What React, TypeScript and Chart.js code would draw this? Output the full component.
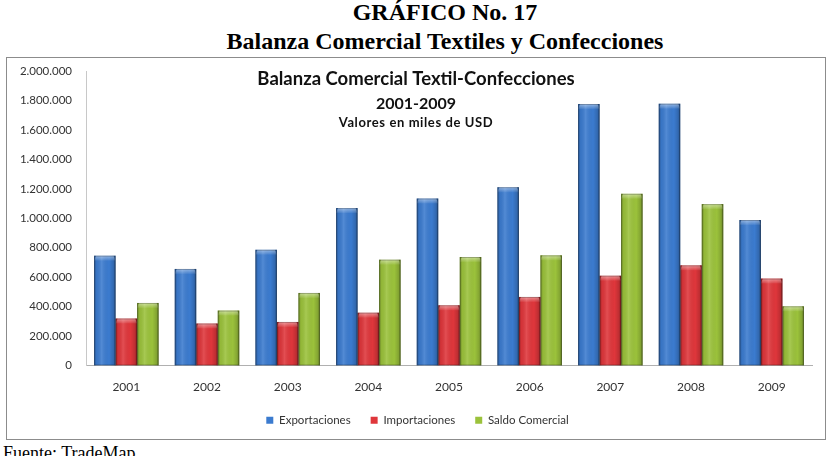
import React, { useEffect, useRef } from "react";
import { Chart, registerables } from "chart.js";

Chart.register(...registerables);

const years = ["2001", "2002", "2003", "2004", "2005", "2006", "2007", "2008", "2009"];
const exportaciones = [746000, 656000, 786000, 1069000, 1134000, 1211000, 1776000, 1778000, 988000];
const importaciones = [319000, 285000, 296000, 359000, 409000, 466000, 610000, 680000, 590000];
const saldoComercial = [425000, 373000, 493000, 719000, 737000, 748000, 1166000, 1096000, 402000];
const seriesNames = ["Exportaciones", "Importaciones", "Saldo Comercial"];
const seriesColors = ["#3b7bcf", "#df363b", "#9bc23b"];
const yMax = 2000000;
const yStep = 200000;

const pageTitle = "GRÁFICO No. 17";
const pageSubtitle = "Balanza Comercial Textiles y Confecciones";
const chartTitle = "Balanza Comercial Textil-Confecciones";
const chartPeriod = "2001-2009";
const chartUnits = "Valores en miles de USD";
const sourceNote = "Fuente: TradeMap";

const FONT = "Lato, 'Open Sans', sans-serif";
const SERIF = "'Liberation Serif', 'Times New Roman', serif";

function fmt(v: number): string {
  return String(v).replace(/\B(?=(\d{3})+(?!\d))/g, ".");
}

const barShading = {
  id: "barShading",
  afterDatasetsDraw(chart: any) {
    const ctx = chart.ctx;
    chart.data.datasets.forEach((_: any, di: number) => {
      const meta = chart.getDatasetMeta(di);
      meta.data.forEach((bar: any) => {
        const { x, y, base, width } = bar.getProps(["x", "y", "base", "width"], true);
        const l = x - width / 2;
        const h = base - y;
        if (h <= 0) return;
        ctx.save();
        const g = ctx.createLinearGradient(l, 0, l + width, 0);
        g.addColorStop(0, "rgba(0,0,0,0.30)");
        g.addColorStop(0.12, "rgba(0,0,0,0.05)");
        g.addColorStop(0.35, "rgba(255,255,255,0.12)");
        g.addColorStop(0.7, "rgba(0,0,0,0.0)");
        g.addColorStop(0.9, "rgba(0,0,0,0.15)");
        g.addColorStop(1, "rgba(0,0,0,0.40)");
        ctx.fillStyle = g;
        ctx.fillRect(l, y, width, h);
        const cap = Math.min(5, h);
        const g2 = ctx.createLinearGradient(0, y, 0, y + cap);
        g2.addColorStop(0, "rgba(255,255,255,0.45)");
        g2.addColorStop(1, "rgba(255,255,255,0.05)");
        ctx.fillStyle = g2;
        ctx.beginPath();
        ctx.moveTo(l, y + cap);
        ctx.lineTo(l + 2, y);
        ctx.lineTo(l + width - 2, y);
        ctx.lineTo(l + width, y + cap);
        ctx.closePath();
        ctx.fill();
        ctx.strokeStyle = "rgba(0,0,0,0.25)";
        ctx.lineWidth = 1;
        ctx.strokeRect(l + 0.5, y + 0.5, width - 1, h - 1);
        ctx.restore();
      });
    });
  },
};

const innerTitle = {
  id: "innerTitle",
  afterDraw(chart: any) {
    const ctx = chart.ctx;
    const cx = chart.chartArea.left + 330;
    const top = chart.chartArea.top;
    ctx.save();
    ctx.fillStyle = "#111";
    ctx.textAlign = "center";
    ctx.textBaseline = "middle";
    ctx.font = `bold 18.5px ${FONT}`;
    ctx.fillText(chartTitle, cx, top + 8);
    ctx.font = `bold 16px ${FONT}`;
    ctx.fillText(chartPeriod, cx, top + 33);
    ctx.font = `bold 13px ${FONT}`;
    try {
      (ctx as any).letterSpacing = "0.6px";
    } catch (e) {}
    ctx.fillText(chartUnits, cx, top + 52);
    ctx.restore();
  },
};

const legendShift = {
  id: "legendShift",
  afterLayout(chart: any) {
    if (chart.legend) {
      chart.legend.left += 8;
      chart.legend.right += 8;
    }
  },
};

function BarChart() {
  const ref = useRef<HTMLCanvasElement | null>(null);
  useEffect(() => {
    if (!ref.current) return;
    const chart = new Chart(ref.current, {
      type: "bar",
      data: {
        labels: years,
        datasets: [
          { label: seriesNames[0], data: exportaciones, backgroundColor: seriesColors[0] },
          { label: seriesNames[1], data: importaciones, backgroundColor: seriesColors[1] },
          { label: seriesNames[2], data: saldoComercial, backgroundColor: seriesColors[2] },
        ],
      },
      options: {
        responsive: false,
        animation: false,
        devicePixelRatio: 1,
        layout: { padding: { left: 0, right: 13, top: 13, bottom: 3 } },
        datasets: { bar: { barPercentage: 1, categoryPercentage: 0.8 } },
        plugins: {
          title: { display: false },
          tooltip: { enabled: false },
          legend: {
            position: "bottom",
            labels: {
              boxWidth: 7,
              boxHeight: 7,
              padding: 20,
              color: "#333",
              font: { family: FONT, size: 11.5 },
            },
          },
        },
        scales: {
          x: {
            grid: { display: false, drawTicks: false },
            border: { display: true, color: "#b0b0b0" },
            afterFit: (s: any) => {
              s.height = 29;
            },
            ticks: { color: "#333", font: { family: FONT, size: 12 }, padding: 14 },
          },
          y: {
            min: 0,
            max: yMax,
            grid: { display: false, drawTicks: false },
            border: { display: true, color: "#c8c8c8" },
            afterFit: (s: any) => {
              s.width = 79;
              s.paddingTop = 0;
              s.paddingBottom = 0;
            },
            ticks: {
              stepSize: yStep,
              color: "#333",
              padding: 14,
              font: { family: FONT, size: 11.5 },
              callback: (v: any) => fmt(Number(v)),
            },
          },
        },
      },
      plugins: [barShading, innerTitle, legendShift],
    });
    return () => chart.destroy();
  }, []);
  return <canvas ref={ref} width={818} height={381} style={{ display: "block" }} />;
}

export default function App() {
  return (
    <div
      style={{
        position: "fixed",
        left: 0,
        top: 0,
        width: 836,
        height: 456,
        background: "#fff",
        overflow: "hidden",
      }}
    >
      <div
        style={{
          position: "absolute",
          left: 445,
          top: -2,
          transform: "translateX(-50%)",
          whiteSpace: "nowrap",
          textAlign: "center",
          fontFamily: SERIF,
          fontWeight: "bold",
          fontSize: 24,
          lineHeight: "29px",
          color: "#000",
        }}
      >
        <div>{pageTitle}</div>
        <div>{pageSubtitle}</div>
      </div>
      <div
        style={{
          position: "absolute",
          left: 6,
          top: 57,
          width: 818,
          height: 381,
          border: "1px solid #8c8c8c",
        }}
      >
        <BarChart />
      </div>
      <div
        style={{
          position: "absolute",
          left: 3,
          top: 444,
          fontFamily: SERIF,
          fontSize: 18,
          lineHeight: "18px",
          color: "#000",
          whiteSpace: "nowrap",
        }}
      >
        {sourceNote}
      </div>
    </div>
  );
}
